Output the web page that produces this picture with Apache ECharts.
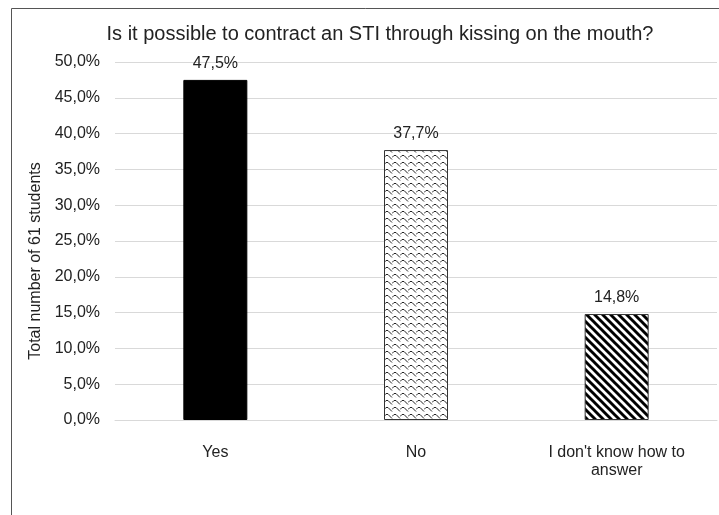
<!DOCTYPE html>
<html><head><meta charset="utf-8">
<script src="https://cdn.jsdelivr.net/npm/echarts@6/dist/echarts.min.js"></script>
<style>html,body{margin:0;padding:0;background:#fff}#c{width:719px;height:515px}</style>
</head><body><div id="c"></div>
<script>
var categories = ["Yes", "No", "I don't know how to\nanswer"];
var values = [47.5, 37.7, 14.8];
var yTicks = [0, 5, 10, 15, 20, 25, 30, 35, 40, 45, 50];

function fmt(v){ return v.toFixed(1).replace('.', ',') + '%'; }

function hatch(){
  var c = document.createElement('canvas'); c.width = 8; c.height = 8;
  var g = c.getContext('2d');
  g.fillStyle = '#fff'; g.fillRect(0,0,8,8);
  g.strokeStyle = '#000'; g.lineWidth = 2.9;
  g.beginPath();
  for (var k=-2;k<=2;k++){ g.moveTo(k*8-4, -4); g.lineTo(k*8+12, 12); }
  g.stroke();
  return c;
}
function waves(){
  var c = document.createElement('canvas'); c.width = 8; c.height = 7;
  var g = c.getContext('2d');
  g.fillStyle = '#fff'; g.fillRect(0,0,8,7);
  g.strokeStyle = '#222'; g.lineWidth = 1;
  g.beginPath();
  g.moveTo(0,3.5); g.lineTo(2,1.5); g.lineTo(4,1.5); g.lineTo(8,5.5);
  g.moveTo(-8,3.5); g.lineTo(-6,1.5); g.lineTo(-4,1.5); g.lineTo(0,5.5);
  g.moveTo(0,10.5); g.lineTo(2,8.5); g.moveTo(4,-5.5); g.lineTo(8,-1.5);
  g.moveTo(0,-3.5); g.lineTo(2,-5.5);
  g.moveTo(4,8.5); g.lineTo(8,12.5);
  g.stroke();
  return c;
}

var fills = ['#000', {image: waves(), repeat: 'repeat'}, {image: hatch(), repeat: 'repeat'}];

var chart = echarts.init(document.getElementById('c'), null, {renderer: 'canvas'});
chart.setOption({
  animation: false,
  title: {
    text: 'Is it possible to contract an STI through kissing on the mouth?',
    left: 375, top: 19, textAlign: 'center',
    textStyle: {fontFamily: 'Liberation Sans', fontSize: 20, fontWeight: 'normal', color: '#222'}
  },
  graphic: [{
    type: 'rect', shape: {x: 11.5, y: 8.5, width: 720, height: 520},
    style: {fill: 'none', stroke: '#555', lineWidth: 1}, silent: true
  }],
  grid: {left: 115, right: 2, top: 62, bottom: 95, containLabel: false},
  xAxis: {
    type: 'category', data: categories,
    axisLine: {lineStyle: {color: '#d9d9d9'}},
    axisTick: {show: false},
    axisLabel: {fontFamily: 'Liberation Sans', fontSize: 16, color: '#222', margin: 24, lineHeight: 18}
  },
  yAxis: {
    type: 'value', min: 0, max: 50, interval: 5,
    name: 'Total number of 61 students', nameLocation: 'middle', nameGap: 70, nameRotate: 90,
    nameTextStyle: {fontFamily: 'Liberation Sans', fontSize: 16, color: '#222', padding: [0, 40, 0, 0]},
    axisLine: {show: false}, axisTick: {show: false},
    splitLine: {lineStyle: {color: '#d9d9d9'}},
    axisLabel: {fontFamily: 'Liberation Sans', fontSize: 16, color: '#222', margin: 15, formatter: function(v){ return fmt(v); }}
  },
  series: [{
    type: 'bar', barWidth: 64,
    data: values.map(function(v, i){ return {value: v, itemStyle: {color: fills[i], borderColor: i === 0 ? '#000' : '#333', borderWidth: 1}}; }),
    label: {show: true, position: 'top', distance: 8, fontFamily: 'Liberation Sans', fontSize: 16, color: '#222', formatter: function(p){ return fmt(p.value); }}
  }]
});
</script></body></html>
